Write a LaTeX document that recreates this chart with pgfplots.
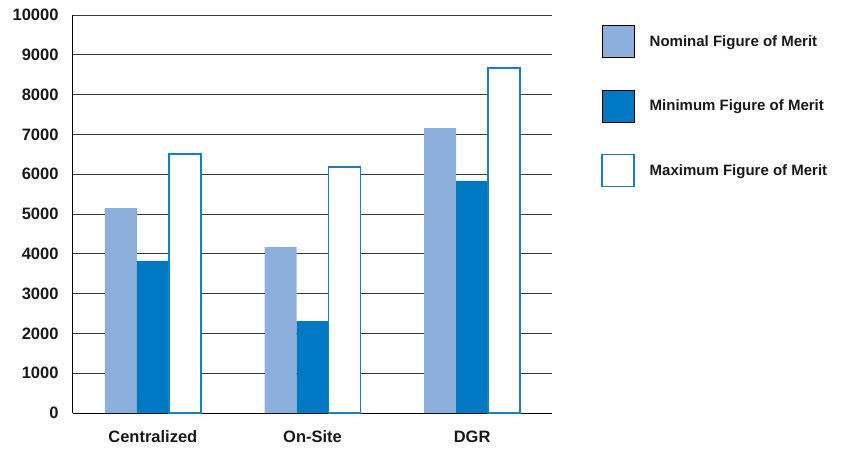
\documentclass[border=0pt]{standalone}
\usepackage{fontspec}
\setmainfont{Liberation Sans}
\usepackage{pgfplots}
\pgfplotsset{compat=1.18}
\definecolor{nomblue}{HTML}{8CAFDB}
\definecolor{minblue}{HTML}{0079C2}
\definecolor{maxblue}{HTML}{1580C8}
\definecolor{gridgray}{HTML}{3A3A3A}
\begin{document}
\begin{tikzpicture}[x=1pt,y=1pt]
\useasboundingbox (0,0) rectangle (841,451);
\begin{axis}[
    at={(73pt,38pt)}, anchor=south west,
    scale only axis, width=479pt, height=398pt,
    ybar=0pt, bar width=32pt,
    xmin=-0.5, xmax=2.5, ymin=0, ymax=10000,
    xtick={0,1,2}, xticklabels={Centralized,On-Site,DGR},
    ytick={0,1000,...,10000},
    scaled y ticks=false,
    ymajorgrids, grid style={draw=gridgray, line width=0.8pt},
    axis x line*=bottom, axis y line*=left,
    axis line style={-, draw=black, line width=1pt},
    major tick length=0pt,
    ticklabel style={font=\bfseries\fontsize{16.5}{16.5}\selectfont, text=black!90},
    yticklabel style={xshift=-11pt},
    xticklabel style={yshift=-14pt},
    /pgf/number format/assume math mode=true,
    /pgf/number format/1000 sep={},
    legend style={at={(1.1023,0.975)}, anchor=north west, draw=none,
        font=\bfseries\fontsize{15}{15}\selectfont, text=black!90,
        row sep=32pt, inner sep=0pt, column sep=0pt,
        nodes={inner xsep=15pt, inner ysep=0pt}},
    legend cell align=left,
    legend image code/.code={\draw[#1] (0pt,-16pt) rectangle (32pt,16pt);},
]
\addplot[draw=none, fill=nomblue] coordinates {(0,5150) (1,4170) (2,7160)};
\addplot[draw=none, fill=minblue] coordinates {(0,3820) (1,2310) (2,5830)};
\addplot[draw=maxblue, line width=1.5pt, fill=white] coordinates {(0,6510) (1,6180) (2,8670)};
\legend{Nominal Figure of Merit, Minimum Figure of Merit, Maximum Figure of Merit}
\end{axis}
\end{tikzpicture}
\end{document}
